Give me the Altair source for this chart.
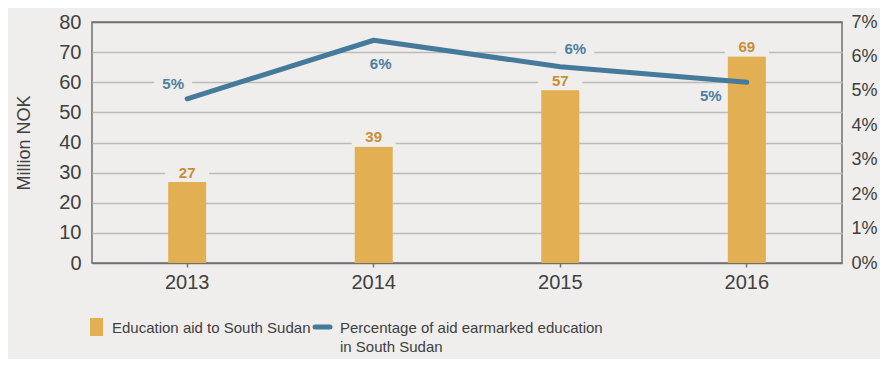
import altair as alt
import pandas as pd

years = ["2013", "2014", "2015", "2016"]
aid_mnok = [27.0, 38.7, 57.4, 68.6]
aid_share = [0.0477, 0.0647, 0.0570, 0.0525]
left_ticks = [0, 10, 20, 30, 40, 50, 60, 70, 80]
right_ticks = [0, 0.01, 0.02, 0.03, 0.04, 0.05, 0.06, 0.07]
legend_labels = ["Education aid to South Sudan",
                 "Percentage of aid earmarked education\nin South Sudan"]
y_title = "Million NOK"

BG = "#EFEEEC"
BAR = "#E2AF52"
BAR_TXT = "#C98E38"
LINE = "#467A9B"
LINE_TXT = "#4B7FA1"
TXT = "#404040"
FRAME = "#707070"
GRID = "#BBBBBB"
FONT = "Liberation Sans"
LEG_FONT = "Liberation Sans"

df = pd.DataFrame({"year": years, "aid": aid_mnok, "share": aid_share})

x_enc = alt.X("year:N", scale=alt.Scale(paddingInner=0, paddingOuter=0.01),
              axis=alt.Axis(title=None, labelAngle=0, domain=False, ticks=True,
                            tickSize=4, tickColor=FRAME, tickWidth=1.5,
                            labelFontSize=20, labelColor=TXT, labelFont=FONT,
                            labelPadding=5, grid=False))

base = alt.Chart(df)

y_left = alt.Y("aid:Q", scale=alt.Scale(domain=[0, 80], nice=False),
               axis=alt.Axis(values=left_ticks, orient="left", domain=False, ticks=False,
                             labelFontSize=20, labelColor=TXT, labelFont=FONT,
                             labelPadding=11, grid=True, labelOverlap=False,
                             gridColor=alt.condition("datum.value == 0 || datum.value == 80",
                                                     alt.value(FRAME), alt.value(GRID)),
                             gridWidth=1.5, title=y_title, titleFontSize=18,
                             titleFont=FONT, titleFontWeight="normal", titleColor=TXT,
                             titlePadding=25))

bars = base.mark_bar(size=38, color=BAR).encode(x=x_enc, y=y_left)
bar_bg = base.mark_point(shape="M-1,-0.42H1V0.42H-1Z", filled=True, fill=BG,
                         strokeWidth=0, size=44 * 44, opacity=1, yOffset=-9).encode(
    x=x_enc, y=y_left)
bar_txt = base.mark_text(font=FONT, fontSize=15, fontWeight="bold", color=BAR_TXT,
                         baseline="middle", yOffset=-9).encode(
    x=x_enc, y=y_left, text=alt.Text("aid:Q", format=".0f"))
left = alt.layer(bars, bar_bg, bar_txt)

y_right = alt.Y("share:Q", scale=alt.Scale(domain=[0, 0.07], nice=False),
                axis=alt.Axis(values=right_ticks, orient="right", format=".0%",
                              domain=False, ticks=False, grid=False, labelOverlap=False,
                              labelFontSize=18, labelColor=TXT, labelFont=FONT,
                              labelPadding=9, title=None))

line = base.mark_line(color=LINE, strokeWidth=5, strokeCap="round",
                      strokeJoin="round").encode(x=x_enc, y=y_right)

offsets = {"2013": (-14, -15, True), "2014": (7, 24, False),
           "2015": (15, -18, True), "2016": (-36, 14, False)}
lab_layers = []
for yr, (dx, dy, boxed) in offsets.items():
    f = base.transform_filter(alt.datum.year == yr)
    if boxed:
        lab_layers.append(f.mark_point(shape="M-1,-0.48H1V0.48H-1Z", filled=True, fill=BG,
                                       strokeWidth=0, size=38 * 38, opacity=1,
                                       xOffset=dx, yOffset=dy).encode(x=x_enc, y=y_right))
    lab_layers.append(f.mark_text(font=FONT, fontSize=15, fontWeight="bold",
                                  color=LINE_TXT, baseline="middle",
                                  xOffset=dx, yOffset=dy).encode(
        x=x_enc, y=y_right, text=alt.Text("share:Q", format=".0%")))
right = alt.layer(line, *lab_layers)

leg = alt.Chart(pd.DataFrame({"k": [0]}))
leg_sq = leg.mark_rect(color=BAR).encode(x=alt.value(-2), x2=alt.value(11),
                                          y=alt.value(296), y2=alt.value(314))
leg_t1 = leg.mark_text(font=LEG_FONT, fontSize=15, color=TXT, align="left",
                       baseline="middle").encode(x=alt.value(20), y=alt.value(306),
                                                 text=alt.value(legend_labels[0]))
leg_ln = leg.mark_rule(color=LINE, strokeWidth=5, strokeCap="round").encode(
    x=alt.value(223), x2=alt.value(238), y=alt.value(305))
leg_t2 = leg.mark_text(font=LEG_FONT, fontSize=15, color=TXT, align="left",
                       baseline="middle", lineBreak="\n", lineHeight=19).encode(
    x=alt.value(248), y=alt.value(306), text=alt.value(legend_labels[1]))
legend = alt.layer(leg_sq, leg_t1, leg_ln, leg_t2)

chart = alt.layer(left, right, legend).resolve_scale(y="independent").properties(
    width=750, height=241,
    autosize=alt.AutoSizeParams(type="none"),
    padding={"left": 84, "top": 14, "right": 38, "bottom": 96},
    background=BG,
).configure_view(stroke=FRAME, strokeWidth=1.5)

chart.save("out.html", embed_options={"renderer": "svg", "actions": False})
